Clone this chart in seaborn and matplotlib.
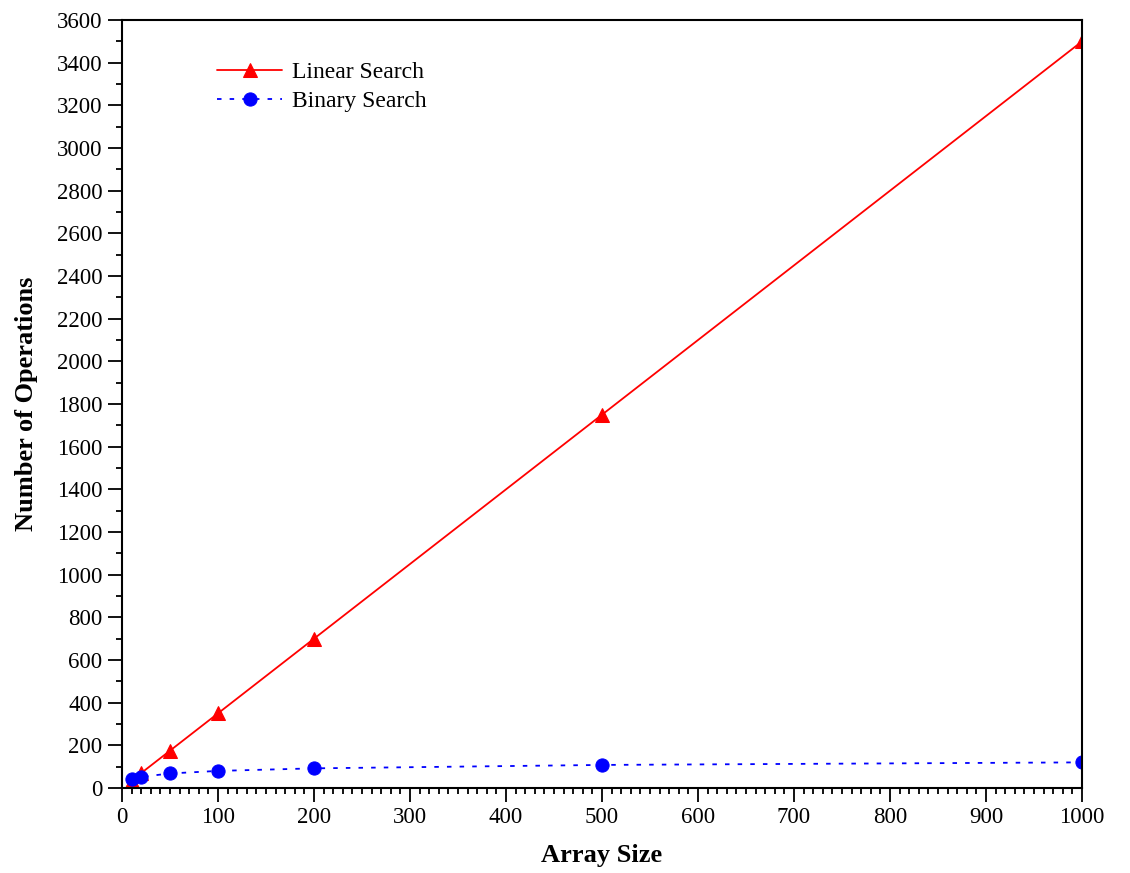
import matplotlib
matplotlib.use("Agg")
import matplotlib.pyplot as plt
import seaborn as sns
import pandas as pd
from matplotlib.ticker import MultipleLocator

sizes = [10, 20, 50, 100, 200, 500, 1000]
linear_ops = [35, 70, 175, 350, 700, 1750, 3500]
binary_ops = [40, 52, 68, 80, 92, 108, 120]
series_names = ["Linear Search", "Binary Search"]

sns.set_theme(style="white")
plt.rcParams["font.family"] = ["Liberation Serif", "DejaVu Serif"]

fig = plt.figure(figsize=(11.3, 8.73), dpi=100)
ax = fig.add_axes([0.108, 0.0974, 0.8495, 0.8796])

df_lin = pd.DataFrame({"size": sizes, "ops": linear_ops})
df_bin = pd.DataFrame({"size": sizes, "ops": binary_ops})

sns.lineplot(data=df_lin, x="size", y="ops", ax=ax, color="red", marker="^",
             markersize=10, markeredgecolor="red", linewidth=1.3, label=series_names[0])
sns.lineplot(data=df_bin, x="size", y="ops", ax=ax, color="blue", marker="o",
             markersize=9.5, markeredgecolor="blue", linewidth=1.3,
             linestyle=(0, (2.5, 4.5)), label=series_names[1])

ax.set_xlim(0, 1000)
ax.set_ylim(0, 3600)
ax.xaxis.set_major_locator(MultipleLocator(100))
ax.xaxis.set_minor_locator(MultipleLocator(10))
ax.yaxis.set_major_locator(MultipleLocator(200))
ax.yaxis.set_minor_locator(MultipleLocator(100))

ax.tick_params(axis="both", which="major", direction="out", length=10, width=1.3,
               labelsize=16.5, color="black", labelcolor="black", bottom=True, left=True, pad=4)
ax.tick_params(axis="both", which="minor", direction="out", length=4.5, width=1.3,
               color="black", bottom=True, left=True)
ax.tick_params(top=False, right=False, which="both")

for s in ax.spines.values():
    s.set_visible(True)
    s.set_color("black")
    s.set_linewidth(1.5)

ax.set_xlabel("Array Size", fontsize=19, fontweight="bold", color="black", labelpad=11)
ax.set_ylabel("Number of Operations", fontsize=19, fontweight="bold", color="black", labelpad=14)

leg = ax.legend(loc="upper left", bbox_to_anchor=(0.099, 0.9455), frameon=False,
                fontsize=17, handlelength=2.75, handletextpad=0.42, labelspacing=0.3,
                borderpad=0, borderaxespad=0)
for t in leg.get_texts():
    t.set_color("black")

fig.savefig("out.png", dpi=100)
